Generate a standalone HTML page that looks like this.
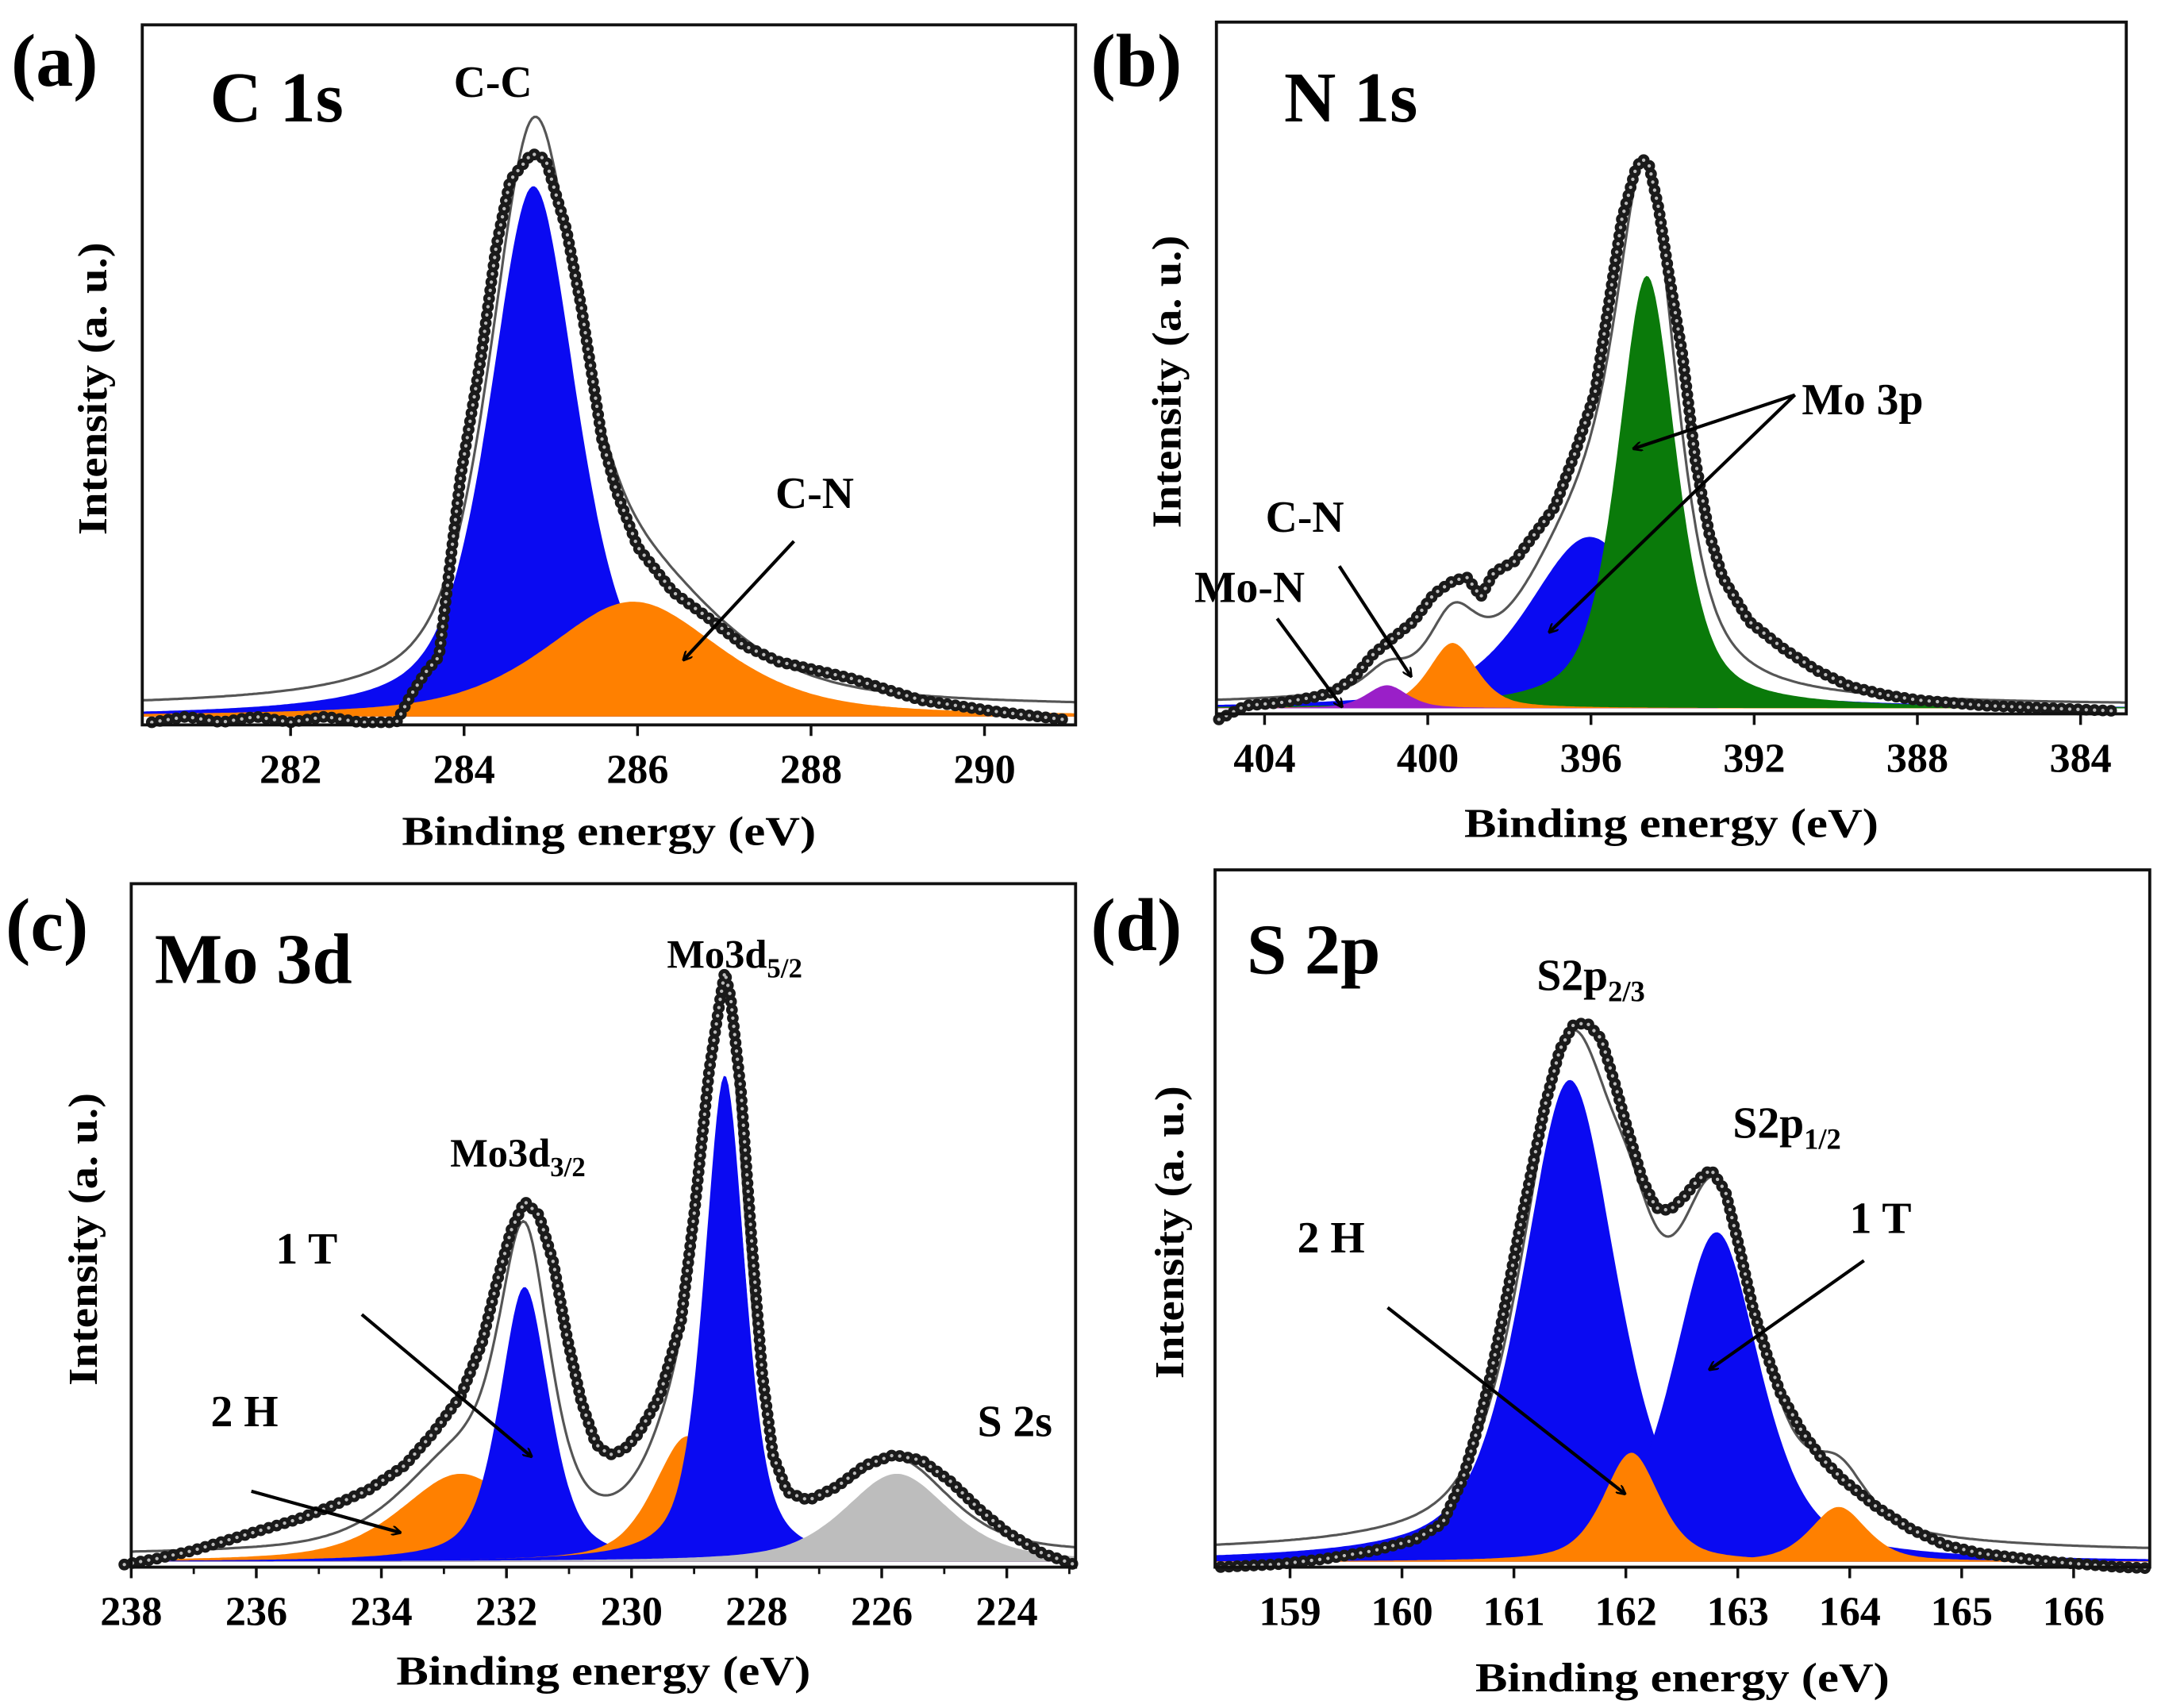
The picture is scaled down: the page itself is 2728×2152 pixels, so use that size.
<!DOCTYPE html>
<html><head><meta charset="utf-8"><title>XPS spectra</title>
<style>
html,body{margin:0;padding:0;background:#fff;}
svg{display:block;}
text{font-family:"Liberation Serif",serif;font-weight:bold;fill:#000;}
</style></head>
<body>
<svg id="fig" xmlns="http://www.w3.org/2000/svg" width="2728" height="2152" viewBox="0 0 1568 1237">
<defs>
<marker id="ah" viewBox="0 0 10 10" refX="9" refY="5" markerWidth="7" markerHeight="7" orient="auto-start-reverse" markerUnits="userSpaceOnUse"><path d="M0,0 L10,5 L0,10" fill="none" stroke="#000" stroke-width="2"/></marker>
</defs>
</svg>
<script>
// ---------- Panel (a) C 1s ----------
const aEnergy=[280.4,280.8,281.2,281.6,282.0,282.4,282.8,283.22,283.39,283.55,283.71,283.96,284.20,284.37,284.53,284.78,284.94,285.18,285.35,285.59,285.76,286.0,286.41,286.82,287.22,287.63,288.45,289.27,290.08,290.9];
const aIntensity=[-1,0,-1,0,-1,0,-1,-1,3.9,7.7,10.6,42.5,63.8,83,94.7,99.5,98.5,86,72.5,49,39.6,30,22,17.4,12.6,9.7,6.8,2.9,1,-0.5];
const aCenters=[284.8,285.95];
const aHeights=[93.7,20.3];
const aFwhm=[1.2,2.4];
const aColors=["#0a0af2","#ff8000"];
const aTicks=[282,284,286,288,290];
// ---------- Panel (b) N 1s ----------
const bEnergy=[405.12,404.46,403.64,402.81,402.32,401.83,401.33,400.84,400.35,399.85,399.36,399.03,398.70,398.37,397.88,397.38,396.89,396.39,395.90,395.57,395.24,394.91,394.75,394.58,394.34,394.09,393.76,393.43,393.10,392.77,392.12,391.29,390.47,389.65,388.82,388.0,386.35,384.71,383.06];
const bIntensity=[-2,0.5,1,2,3,5.4,9.9,12.9,15.8,20.8,23.3,23.8,20.3,24.8,26.7,31.7,36.6,46.5,57.4,73.3,89.1,98,100,99,91,79,64.4,44.6,31.7,23.8,15.8,10.9,6.9,4,2.5,1.5,0.5,0,-0.5];
const bCenters=[396.03,394.63,399.39,401.0];
const bHeights=[31.2,78.7,11.9,4.2];
const bFwhm=[3.6,1.7,1.4,1.2];
const bColors=["#0a0af2","#0a7a0a","#ff8000","#9a1fc8"];
const bTicks=[404,400,396,392,388,384];
// ---------- Panel (c) Mo 3d ----------
const cEnergy=[238.11,237.60,237.04,236.47,235.90,235.34,234.77,234.20,233.63,233.18,232.73,232.39,232.16,231.93,231.71,231.48,231.25,231.03,230.80,230.57,230.35,230.12,229.89,229.55,229.21,228.99,228.76,228.59,228.51,228.42,228.25,228.08,227.91,227.74,227.51,227.17,226.72,226.27,225.81,225.36,224.90,224.45,224.0,223.43,222.92];
const cIntensity=[-0.5,0.5,1.8,3.6,5.4,7.2,9.5,12.2,16.3,21.7,28.1,37.1,47.1,56.1,61.1,58.8,50.7,38,27.1,19.9,18.1,19,21.7,28.1,40.7,59.7,83.3,95,100,95.9,79.6,54.3,31.7,18.1,11.8,10.4,12.7,16.3,18.1,17.2,13.6,9,5,1.4,-0.5];
const cCenters=[232.73,231.71,229.1,228.51,225.76];
const cHeights=[14.9,46.6,21.3,82.5,14.9];
const cFwhm=[2.3,0.95,1.3,0.78,2.0];
const cColors=["#ff8000","#0a0af2","#ff8000","#0a0af2","#bdbdbd"];
const cTicks=[238,236,234,232,230,228,226,224];
// ---------- Panel (d) S 2p ----------
const dEnergy=[158.38,158.88,159.31,159.74,160.11,160.36,160.54,160.67,160.79,160.91,161.04,161.16,161.28,161.41,161.53,161.65,161.78,161.90,162.02,162.15,162.27,162.39,162.52,162.64,162.76,162.89,163.01,163.13,163.26,163.38,163.57,163.75,163.94,164.24,164.55,164.86,165.17,165.79,166.40,166.65];
const dIntensity=[-1,-0.5,0.5,2,4,7,15.1,24.1,34.2,46.2,60.3,72.4,84.4,94.5,99,99.5,96.5,88.4,79.4,70.4,65.3,64.8,67.3,70.4,72.4,68.3,58.3,47.2,38.2,31.2,24.1,19.1,15.1,10.1,6,3,1.5,0,-1,-1.2];
const dCenters=[161.5,162.81,162.05,163.9];
const dHeights=[88.9,60.8,20.1,10.1];
const dFwhm=[1.0,0.92,0.6,0.6];
const dColors=["#0a0af2","#0a0af2","#ff8000","#ff8000"];
const dTicks=[159,160,161,162,163,164,165,166];

const NS="http://www.w3.org/2000/svg";
const svg=document.getElementById('fig');
function mk(tag,attrs,parent){const e=document.createElementNS(NS,tag);for(const k in attrs)e.setAttribute(k,attrs[k]);(parent||svg).appendChild(e);return e;}
function pv(x,c,h,w){const t=(x-c)/w;return h*(0.55/(1+4*t*t)+0.45*Math.exp(-4*Math.LN2*t*t));}

function panel(o){
  const g=mk('g',{});
  
  
  const sx=v=>o.L+(v-o.x0)/(o.x1-o.x0)*(o.R-o.L);
  const sy=v=>o.base-v*o.k;
  const lo=Math.min(o.x0,o.x1),hi=Math.max(o.x0,o.x1);
  const N=400;
  o.centers.forEach((c,i)=>{
    let d='M'+sx(lo).toFixed(1)+','+sy(0).toFixed(1);
    for(let j=0;j<=N;j++){const x=lo+(hi-lo)*j/N;d+=' L'+sx(x).toFixed(1)+','+sy(pv(x,c,o.heights[i],o.fwhm[i])).toFixed(1);}
    d+=' L'+sx(hi).toFixed(1)+','+sy(0).toFixed(1)+' Z';
    const p=mk('path',{d:d,fill:o.colors[i],stroke:'none'},g);
    
    
  });
  let d='';
  for(let j=0;j<=N;j++){const x=lo+(hi-lo)*j/N;let s=o.bg;o.centers.forEach((c,i)=>{s+=pv(x,c,o.heights[i],o.fwhm[i]);});d+=(j?' L':'M')+sx(x).toFixed(1)+','+sy(s).toFixed(1);}
  const env=mk('path',{d:d,fill:'none',stroke:'#fff',"stroke-width":6},g);
  
  
  const env2=mk('path',{d:d,fill:'none',stroke:'#555',"stroke-width":1.8},g);
  
  
  let pd='';
  o.energy.forEach((e,i)=>{pd+=(i?' L':'M')+sx(e).toFixed(1)+','+sy(o.intensity[i]).toFixed(1);});
  const b1=mk('path',{d:pd,fill:'none',stroke:'#1a1a1a',"stroke-width":8.5,"stroke-linecap":'round',"stroke-linejoin":'round',"stroke-dasharray":'0 6'},g);
  
  
  const b2=mk('path',{d:pd,fill:'none',stroke:'#bbb',"stroke-width":2.5,"stroke-linecap":'round',"stroke-dasharray":'0 6'},g);
  
  
  const fr=mk('rect',{x:o.L,y:o.T,width:o.R-o.L,height:o.B-o.T,fill:'none',stroke:'#111',"stroke-width":2.2},g);
  
  
  o.ticks.forEach(t=>{
    const x=sx(t);
    const tk=mk('line',{x1:x,y1:o.B,x2:x,y2:o.B+8,stroke:'#111',"stroke-width":2},g);
    
    
    const tl=mk('text',{x:x,y:o.B+42,"text-anchor":'middle',"font-size":30},g);
    tl.textContent=String(t);
    
    
  });
  if(o.minor){o.minor.forEach(t=>{const x=sx(t);const mt=mk('line',{x1:x,y1:o.B,x2:x,y2:o.B+5,stroke:'#111',"stroke-width":1.6},g);});}
  const xt=mk('text',{x:(o.L+o.R)/2,y:o.xty,"text-anchor":'middle',"font-size":30,textLength:300,lengthAdjust:'spacingAndGlyphs'},g);
  xt.textContent='Binding energy (eV)';
  
  
  const yc=(o.T+o.B)/2+10;
  const yt=mk('text',{x:0,y:0,"text-anchor":'middle',"font-size":30,textLength:212,lengthAdjust:'spacingAndGlyphs',transform:'translate('+o.ytx+','+yc+') rotate(-90)'},g);
  yt.textContent='Intensity (a. u.)';
  
  
  return g;
}

panel({name:'panel-a-c1s',L:103,R:779,T:18,B:525,x0:280.29,x1:291.05,base:519,k:4.1,bg:1.5,
  energy:aEnergy,intensity:aIntensity,centers:aCenters,heights:aHeights,fwhm:aFwhm,colors:aColors,ticks:aTicks,xty:612,ytx:77});
panel({name:'panel-b-n1s',L:881,R:1540,T:16,B:517,x0:405.18,x1:382.88,base:513,k:3.98,bg:0.5,
  energy:bEnergy,intensity:bIntensity,centers:bCenters,heights:bHeights,fwhm:bFwhm,colors:bColors,ticks:bTicks,xty:606,ytx:855});
panel({name:'panel-c-mo3d',L:95,R:779,T:640,B:1135,x0:238,x1:222.9,base:1131,k:4.27,bg:1,
  energy:cEnergy,intensity:cIntensity,centers:cCenters,heights:cHeights,fwhm:cFwhm,colors:cColors,ticks:cTicks,minor:[237,235,233,231,229,227,225,223],xty:1220,ytx:70});
panel({name:'panel-d-s2p',L:880,R:1557,T:630,B:1135,x0:158.33,x1:166.68,base:1131,k:3.924,bg:1.5,
  energy:dEnergy,intensity:dIntensity,centers:dCenters,heights:dHeights,fwhm:dFwhm,colors:dColors,ticks:dTicks,xty:1225,ytx:857});

function txt(s,x,y,size,name,anchor){const t=mk('text',{x:x,y:y,"font-size":size,"text-anchor":anchor||'start'});t.innerHTML=s;return t;}
function arrow(x1,y1,x2,y2,name){const l=mk('line',{x1:x1,y1:y1,x2:x2,y2:y2,stroke:'#000',"stroke-width":2.4,"marker-end":'url(#ah)'});}
txt('(a)',8,62,54,'panel-label-a');
txt('(b)',790,62,54,'panel-label-b');
txt('(c)',4,688,54,'panel-label-c');
txt('(d)',790,688,54,'panel-label-d');
txt('C 1s',152,88,52,'title-c1s');
txt('N 1s',930,88,52,'title-n1s');
txt('Mo 3d',112,712,52,'title-mo3d');
txt('S 2p',903,705,52,'title-s2p');
txt('C-C',357,70,32,'label-cc','middle');
txt('C-N',590,368,32,'label-cn-a','middle');
arrow(575,392,495,478,'arrow-cn-a');
txt('Mo 3p',1305,300,32,'label-mo3p');
arrow(1300,286,1183,325,'arrow-mo3p-green');
arrow(1300,286,1122,458,'arrow-mo3p-blue');
txt('C-N',945,385,32,'label-cn-b','middle');
txt('Mo-N',905,436,32,'label-mon','middle');
arrow(970,410,1022,490,'arrow-cn-b');
arrow(925,448,972,512,'arrow-mon');
txt('Mo3d<tspan font-size="20" dy="7">5/2</tspan>',532,701,29,'label-mo3d52','middle');
txt('Mo3d<tspan font-size="20" dy="7">3/2</tspan>',375,845,29,'label-mo3d32','middle');
txt('1 T',222,915,32,'label-1t-c','middle');
arrow(262,952,385,1055,'arrow-1t-c');
txt('2 H',177,1033,32,'label-2h-c','middle');
arrow(182,1080,290,1110,'arrow-2h-c');
txt('S 2s',735,1040,32,'label-s2s','middle');
txt('S2p<tspan font-size="21" dy="8">2/3</tspan>',1113,717,32,'label-s2p23');
txt('S2p<tspan font-size="21" dy="8">1/2</tspan>',1255,824,32,'label-s2p12');
txt('1 T',1362,893,32,'label-1t-d','middle');
arrow(1350,913,1238,992,'arrow-1t-d');
txt('2 H',964,907,32,'label-2h-d','middle');
arrow(1005,947,1177,1082,'arrow-2h-d');
</script>
</body></html>
